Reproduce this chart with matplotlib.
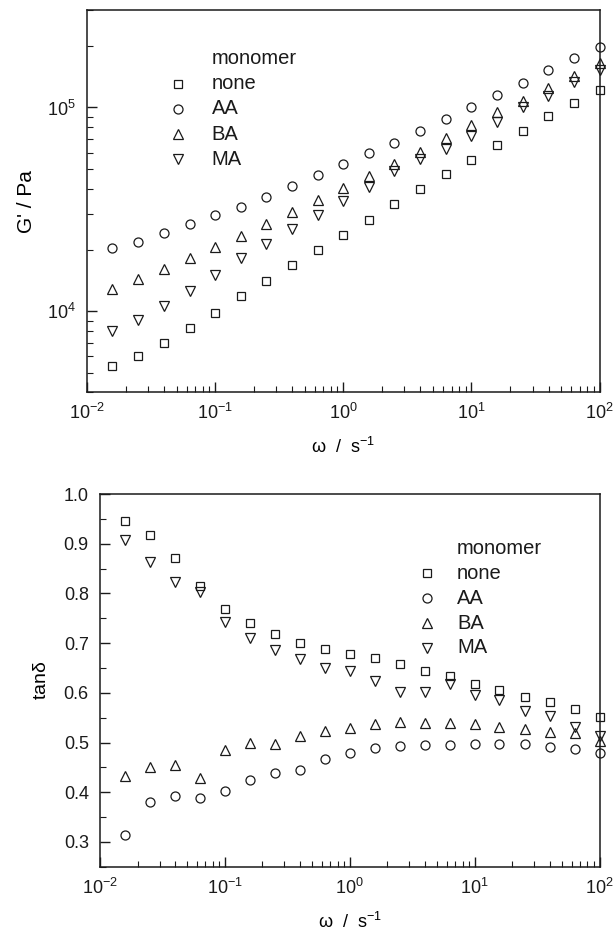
import numpy as np
import matplotlib
matplotlib.use("Agg")
import matplotlib.pyplot as plt
from matplotlib.ticker import LogLocator, MultipleLocator, FormatStrFormatter, NullFormatter

plt.rcParams['font.family'] = ['Liberation Sans', 'DejaVu Sans']
plt.rcParams['mathtext.default'] = 'regular'

# angular frequency (s^-1)
omega = [0.0158, 0.0251, 0.0398, 0.0631, 0.1, 0.158, 0.251, 0.398, 0.631, 1.0,
         1.58, 2.51, 3.98, 6.31, 10.0, 15.8, 25.1, 39.8, 63.1, 100.0]

labels = ["none", "AA", "BA", "MA"]
markers = ["s", "o", "^", "v"]
msizes = [5.5, 6.5, 7.5, 7.5]

# storage modulus G' (Pa)
G_none = [5400, 6020, 7000, 8230, 9850, 11880, 14120, 16800, 19960, 23700,
          28100, 33500, 39800, 47000, 55500, 65700, 76900, 90400, 105400, 122000]
G_AA = [20500, 21800, 24200, 26700, 29500, 32500, 36500, 41200, 46500, 52600,
        59600, 67100, 76900, 88000, 100700, 115000, 132000, 152000, 174000, 199000]
G_BA = [12850, 14400, 16100, 18200, 20600, 23400, 26900, 30800, 35200, 40300,
        46100, 52800, 60700, 70500, 81900, 94500, 107800, 125300, 142900, 164800]
G_MA = [8010, 9040, 10620, 12530, 15000, 18300, 21400, 25300, 29500, 34800,
        40900, 48600, 55700, 62300, 72600, 84500, 100000, 114000, 133600, 152800]

# loss tangent tan(delta)
tan_none = [0.946, 0.918, 0.871, 0.816, 0.769, 0.741, 0.719, 0.701, 0.689, 0.679,
            0.670, 0.658, 0.643, 0.634, 0.618, 0.605, 0.592, 0.581, 0.567, 0.552]
tan_AA = [0.313, 0.380, 0.393, 0.388, 0.403, 0.424, 0.439, 0.445, 0.467, 0.478,
          0.489, 0.494, 0.496, 0.496, 0.498, 0.497, 0.497, 0.491, 0.486, 0.479]
tan_BA = [0.433, 0.451, 0.455, 0.429, 0.484, 0.500, 0.498, 0.514, 0.524, 0.529,
          0.537, 0.542, 0.540, 0.539, 0.537, 0.532, 0.527, 0.522, 0.519, 0.504]
tan_MA = [0.908, 0.864, 0.823, 0.802, 0.742, 0.710, 0.687, 0.668, 0.650, 0.643,
          0.623, 0.601, 0.601, 0.618, 0.595, 0.585, 0.563, 0.553, 0.532, 0.514]

ink = "#1a1a1a"


def style_axes(ax):
    for side in ["left", "bottom", "top", "right"]:
        ax.spines[side].set_linewidth(1.1)
        ax.spines[side].set_color(ink)
    ax.tick_params(which="both", direction="in", top=False, right=False,
                   colors=ink, labelsize=13, pad=8)
    ax.tick_params(which="major", length=7, width=1.0)
    ax.tick_params(which="minor", length=4, width=0.8)
    ax.set_xscale("log")
    ax.set_xlim(1e-2, 1e2)
    ax.xaxis.set_major_locator(LogLocator(base=10, numticks=10))
    ax.xaxis.set_minor_locator(LogLocator(base=10, subs=np.arange(2, 10), numticks=10))
    ax.xaxis.set_minor_formatter(NullFormatter())
    ax.set_xlabel(r"$\omega$  /  s$^{-1}$", fontsize=13, labelpad=10)


# legend keys drawn in axes fractions: title row, then one row per monomer
def add_legend(ax, x_mark, x_text, y_title, step):
    ax.text(x_text, y_title, "monomer", transform=ax.transAxes, fontsize=14.5,
            color=ink, va="center", ha="left")
    for i, (lab, mk, ms) in enumerate(zip(labels, markers, msizes)):
        y = y_title - step * (i + 1)
        ax.plot([x_mark], [y], transform=ax.transAxes, linestyle="none", marker=mk,
                ms=ms, mfc="none", mec=ink, mew=0.9, clip_on=False)
        ax.text(x_text, y, lab, transform=ax.transAxes, fontsize=14.5,
                color=ink, va="center", ha="left")


fig = plt.figure(figsize=(6.13, 9.34), dpi=100)

# top panel: G'
ax1 = fig.add_axes([0.142, 0.580, 0.836, 0.409])
style_axes(ax1)
ax1.set_yscale("log")
ax1.set_ylim(4.0e3, 3.0e5)
ax1.yaxis.set_major_locator(LogLocator(base=10, numticks=10))
ax1.yaxis.set_minor_locator(LogLocator(base=10, subs=np.arange(2, 10), numticks=10))
ax1.yaxis.set_minor_formatter(NullFormatter())
for ys, mk, ms in zip([G_none, G_AA, G_BA, G_MA], markers, msizes):
    ax1.plot(omega, ys, linestyle="none", marker=mk, ms=ms, mfc="none",
             mec=ink, mew=0.9, clip_on=False)
ax1.set_ylabel("G' / Pa", fontsize=15, labelpad=8)
add_legend(ax1, 0.177, 0.243, 0.874, 0.066)

# bottom panel: tan delta
ax2 = fig.add_axes([0.163, 0.072, 0.815, 0.399])
style_axes(ax2)
ax2.set_ylim(0.25, 1.0)
ax2.yaxis.set_major_locator(MultipleLocator(0.1))
ax2.yaxis.set_minor_locator(MultipleLocator(0.05))
ax2.yaxis.set_major_formatter(FormatStrFormatter("%.1f"))
for ys, mk, ms in zip([tan_none, tan_AA, tan_BA, tan_MA], markers, msizes):
    ax2.plot(omega, ys, linestyle="none", marker=mk, ms=ms, mfc="none",
             mec=ink, mew=0.9, clip_on=False)
ax2.set_ylabel(r"tan$\delta$", fontsize=14, labelpad=10)
add_legend(ax2, 0.655, 0.715, 0.855, 0.067)

fig.savefig("out.png", dpi=100)
